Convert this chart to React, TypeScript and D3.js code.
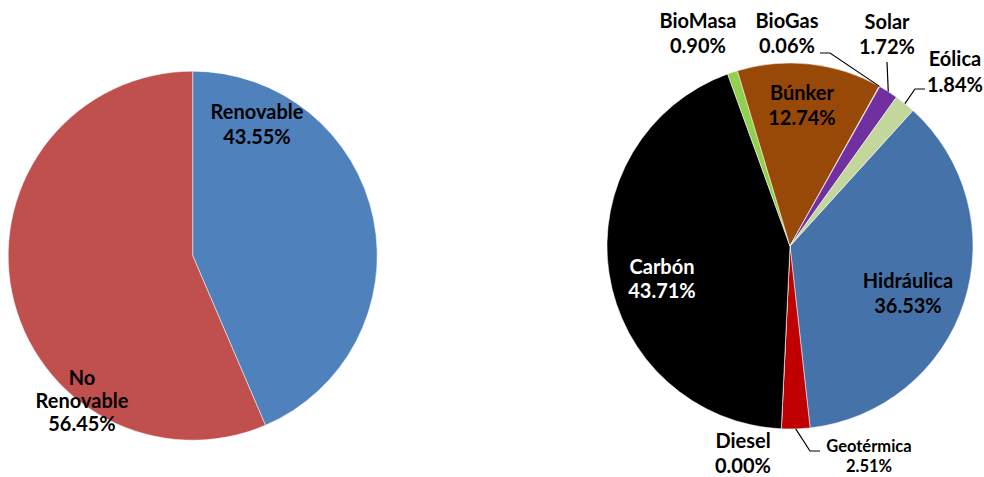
import React from "react";
import * as d3 from "d3";

// Left pie data
const leftNames = ["Renovable", "No Renovable"];
const leftValues = [43.55, 56.45];
const leftColors = ["#4F81BD", "#C0504D"];

// Right pie data (clockwise order)
const rightNames = ["Hidráulica", "Geotérmica", "Diesel", "Carbón", "BioMasa", "Búnker", "BioGas", "Solar", "Eólica"];
const rightValues = [36.53, 2.51, 0.0, 43.71, 0.9, 12.74, 0.06, 1.72, 1.84];
const rightColors = ["#4672AA", "#C00000", "#7F7F7F", "#000000", "#92D050", "#984807", "#F79646", "#7030A0", "#C3D69B"];

const W = 984;
const H = 477;
const FONT = "Lato, 'Open Sans', sans-serif";

const pct = (v: number) => v.toFixed(2) + "%";

export default function App() {
  // left pie
  const lc = { x: 192.7, y: 255.7, r: 184.5 };
  const leftPie = d3.pie<number>().sort(null).startAngle(0).endAngle(2 * Math.PI)(leftValues);
  const leftArc = d3.arc<d3.PieArcDatum<number>>().innerRadius(0).outerRadius(lc.r);

  // right pie
  const rc = { x: 790, y: 246, r: 183 };
  const start = (42.2 * Math.PI) / 180;
  const rightPie = d3.pie<number>().sort(null).startAngle(start).endAngle(start + 2 * Math.PI)(rightValues);
  const rightArc = d3.arc<d3.PieArcDatum<number>>().innerRadius(0).outerRadius(rc.r);

  const edgePoint = (d: d3.PieArcDatum<number>) => {
    const a = (d.startAngle + d.endAngle) / 2;
    return [rc.x + rc.r * Math.sin(a), rc.y - rc.r * Math.cos(a)];
  };

  // label layout for right pie: [cx, baseline1, fontSize, color, lineGap]
  const rightLabelPos: Record<string, [number, number, number, string, number]> = {
    "Hidráulica": [908, 288, 20, "#000", 25],
    "Geotérmica": [869, 452, 16.5, "#000", 20],
    "Diesel": [743, 448, 20, "#000", 25],
    "Carbón": [662, 274, 20, "#fff", 24],
    "BioMasa": [698, 28, 20, "#000", 25],
    "Búnker": [802, 100, 20, "#000", 25],
    "BioGas": [787, 28, 20, "#000", 25],
    "Solar": [887, 29, 20, "#000", 25],
    "Eólica": [955, 66, 20, "#000", 26],
  };
  // leader line elbows / ends
  const leaders: Record<string, [number, number][]> = {
    "BioGas": [[830, 53], [820, 53]],
    "Solar": [[887, 62]],
    "Eólica": [[915, 89], [925, 89]],
    "Geotérmica": [[810, 451], [820, 451]],
  };

  return (
    <svg width={W} height={H} style={{ position: "absolute", left: 0, top: 0, background: "#fff" }} fontFamily={FONT} fontWeight="bold">
      <g transform={`translate(${lc.x},${lc.y})`}>
        {leftPie.map((d, i) => (
          <path key={i} d={leftArc(d) || ""} fill={leftColors[i]} stroke="#fff" strokeWidth={0.5} />
        ))}
      </g>
      <text textAnchor="middle" fontSize={20} fill="#000">
        <tspan x={257} y={119}>{leftNames[0]}</tspan>
        <tspan x={257} y={144}>{pct(leftValues[0])}</tspan>
      </text>
      <text textAnchor="middle" fontSize={20} fill="#000">
        <tspan x={82} y={385}>No</tspan>
        <tspan x={82} y={408}>Renovable</tspan>
        <tspan x={82} y={431}>{pct(leftValues[1])}</tspan>
      </text>

      <g transform={`translate(${rc.x},${rc.y})`}>
        {rightPie.map((d, i) => (
          <path key={i} d={rightArc(d) || ""} fill={rightColors[i]} stroke="#fff" strokeWidth={0.5} />
        ))}
      </g>
      {rightPie.map((d, i) => {
        const name = rightNames[i];
        const pts = leaders[name];
        if (!pts) return null;
        const all = [edgePoint(d), ...pts];
        return <path key={"l" + i} d={d3.line()(all as [number, number][]) || ""} fill="none" stroke="#000" strokeWidth={1.2} />;
      })}
      {rightPie.map((d, i) => {
        const name = rightNames[i];
        const [x, y, fs, col, gap] = rightLabelPos[name];
        return (
          <text key={"t" + i} textAnchor="middle" fontSize={fs} fill={col}>
            <tspan x={x} y={y}>{name}</tspan>
            <tspan x={x} y={y + gap}>{pct(rightValues[i])}</tspan>
          </text>
        );
      })}
    </svg>
  );
}
